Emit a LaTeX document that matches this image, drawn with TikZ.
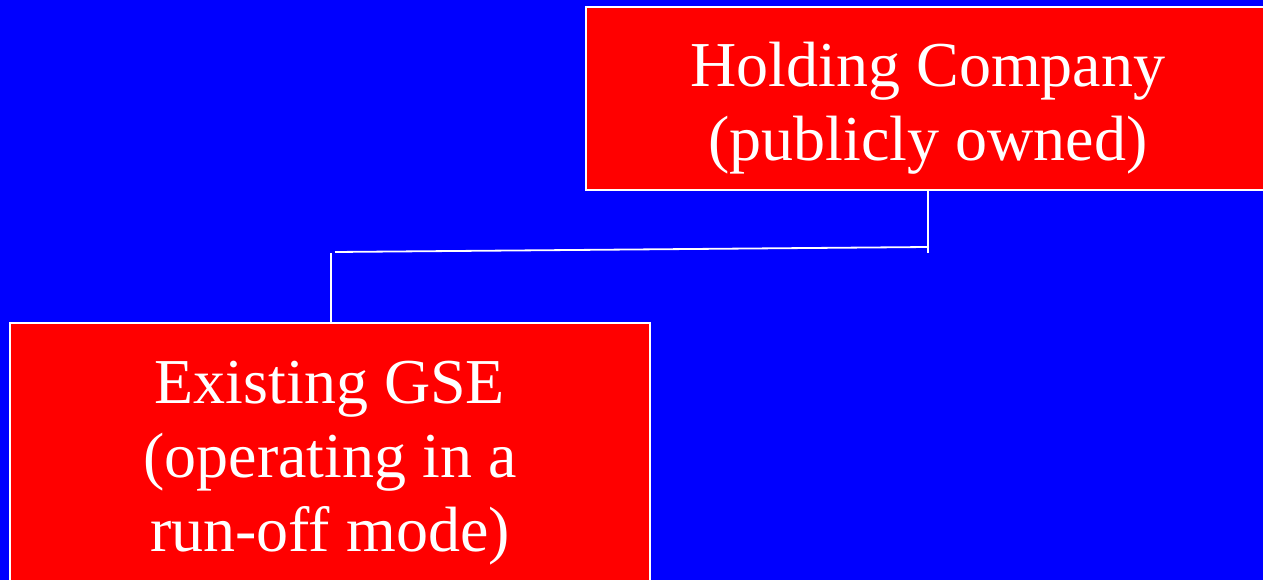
\documentclass[tikz,border=0pt]{standalone}
\usepackage{fontspec}
\setmainfont{Liberation Serif}
\definecolor{bgblue}{RGB}{0,0,255}
\definecolor{boxred}{RGB}{255,0,0}
\begin{document}
\begin{tikzpicture}[x=1pt,y=1pt,
  orgbox/.style={draw=white, line width=1.5pt, fill=boxred, inner sep=0pt},
  orgtext/.style={text=white, align=center, font=\fontsize{64}{74}\selectfont, inner sep=0pt},
  link/.style={draw=white, line width=1.8pt}]
\useasboundingbox (0,0) rectangle (1263,-580);
\clip (0,0) rectangle (1263,-580);
\fill[bgblue] (0,0) rectangle (1263,-580);
\node[orgbox, minimum width=684, minimum height=183] (hold) at (928,-98.5) {};
\node[orgtext] (holdtxt) at ([yshift=-10]hold.center) {Holding Company\\(publicly owned)};
\node[orgbox, minimum width=640, minimum height=268] (gse) at (330,-457) {};
\node[orgtext] (gsetxt) at ([yshift=-6]gse.center) {Existing GSE\\(operating in a\\run-off mode)};
\coordinate (jr) at (928,-253);
\coordinate (jrh) at (928,-247);
\coordinate (jl) at (335,-252);
\coordinate (jlv) at (331,-253);
\draw[link] (hold.south) -- (jr);
\draw[link] (jrh) -- (jl);
\draw[link] (jlv) -- (jlv |- gse.north);
\end{tikzpicture}
\end{document}
